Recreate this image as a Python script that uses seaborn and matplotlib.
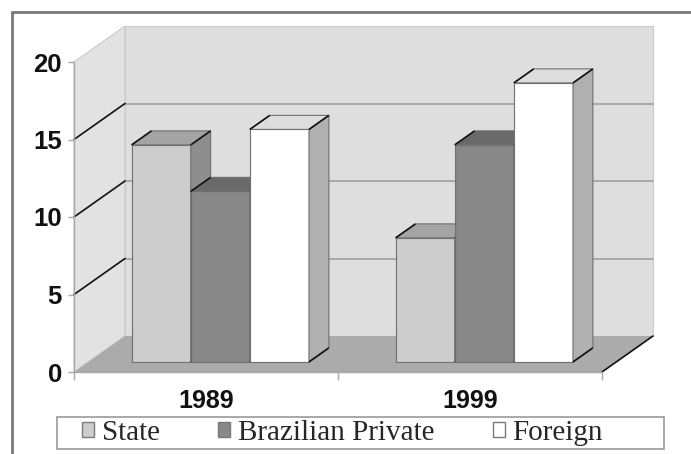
import numpy as np
import pandas as pd
import matplotlib
matplotlib.use("Agg")
import matplotlib.pyplot as plt
from matplotlib.patches import Polygon, Rectangle, Patch
from matplotlib.lines import Line2D
import seaborn as sns

# ---- data -------------------------------------------------------------
years = ["1989", "1999"]
sectors = ["State", "Brazilian Private", "Foreign"]
state = [14, 8]
brazilian_private = [11, 14]
foreign = [15, 18]
y_ticks = [0, 5, 10, 15, 20]

df = pd.DataFrame({
    "year": years * len(sectors),
    "sector": np.repeat(sectors, len(years)),
    "value": state + brazilian_private + foreign,
})

# ---- styling ----------------------------------------------------------
face_front = ["#cdcdcd", "#888888", "#ffffff"]
face_top = ["#a4a4a4", "#6a6a6a", "#dddddd"]
face_side = ["#8e8e8e", "#5e5e5e", "#b0b0b0"]
EDGE = "#707070"

sns.set_theme(style="white")
plt.rcParams["font.family"] = ["Liberation Sans", "DejaVu Sans"]

W, H, DPI = 691, 454, 100
fig = plt.figure(figsize=(W / DPI, H / DPI), dpi=DPI)
fig.patch.set_facecolor("white")

# box geometry in pixels: front floor edge, front axis heights, depth vector
FL, FR = 74, 602
F0, F20 = 372, 62
VMAX = 20
DEPTH = (51, -36)
T0, T1 = 0.28, 0.67          # bar front / back depth fraction
ncat = len(years)
px_cat = (FR - FL) / ncat
px_val = (F0 - F20) / VMAX
ddx = DEPTH[0] / px_cat
ddv = -DEPTH[1] / px_val


def fx(px):
    return px / W


def fy(py):
    return 1 - py / H


def P(x, v, t):
    """Point at category x, value v, depth t (0 front .. 1 back wall)."""
    return (x + (t - T0) * ddx, v + (t - T0) * ddv)


# main axes: data coordinates live in the bars' front plane
ax = fig.add_axes([0, 0, 1, 1])
sns.barplot(data=df, x="year", y="value", hue="sector", palette=face_front,
            width=0.672, saturation=1, edgecolor=EDGE, linewidth=0.8,
            legend=False, ax=ax)

x_left_px = FL + T0 * DEPTH[0]
y0_px = F0 + T0 * DEPTH[1]
ax.set_xlim(-0.5 - x_left_px / px_cat, -0.5 + (W - x_left_px) / px_cat)
ax.set_ylim((y0_px - H) / px_val, y0_px / px_val)
ax.set_axis_off()

xa, xb = -0.5, ncat - 0.5

# walls and floor
back = Polygon([P(xa, 0, 1), P(xb, 0, 1), P(xb, VMAX, 1), P(xa, VMAX, 1)],
               fc="#dedede", ec="#cacaca", lw=0.8, zorder=1)
left = Polygon([P(xa, 0, 0), P(xa, 0, 1), P(xa, VMAX, 1), P(xa, VMAX, 0)],
               fc="#e2e2e2", ec="#cacaca", lw=0.8, zorder=1)
floor = Polygon([P(xa, 0, 0), P(xb, 0, 0), P(xb, 0, 1), P(xa, 0, 1)],
                fc="#ababab", ec="none", zorder=2)
for p in (back, left, floor):
    ax.add_patch(p)

for v in y_ticks[1:-1]:
    (x1, y1), (x2, y2) = P(xa, v, 1), P(xb, v, 1)
    ax.plot([x1, x2], [y1, y2], color="#9a9a9a", lw=1.1, zorder=3)
    (x1, y1), (x2, y2) = P(xa, v, 0), P(xa, v, 1)
    ax.plot([x1, x2], [y1, y2], color="#111111", lw=1.2, zorder=3)
(x1, y1), (x2, y2) = P(xb, 0, 0), P(xb, 0, 1)
ax.plot([x1, x2], [y1, y2], color="#111111", lw=1.2, zorder=3)

# extrude every bar: front face from seaborn, then top and right side
bars = []
for hi, cont in enumerate(ax.containers):
    for rect in cont:
        bars.append((rect.get_x(), hi, rect))
bars.sort(key=lambda b: b[0])

for k, (xl, hi, rect) in enumerate(bars):
    z = 10 + 3 * k
    rect.set_zorder(z)
    xr = xl + rect.get_width()
    h = rect.get_height()
    top = Polygon([P(xl, h, T0), P(xr, h, T0), P(xr, h, T1), P(xl, h, T1)],
                  fc=face_top[hi], ec=EDGE, lw=0.8, zorder=z + 1)
    side = Polygon([P(xr, 0, T0), P(xr, h, T0), P(xr, h, T1), P(xr, 0, T1)],
                   fc=face_side[hi], ec=EDGE, lw=0.8, zorder=z + 1)
    ax.add_patch(side)
    ax.add_patch(top)
    for (xx, vv) in ((xl, h), (xr, h), (xr, 0)):
        (x1, y1), (x2, y2) = P(xx, vv, T0), P(xx, vv, T1)
        ax.plot([x1, x2], [y1, y2], color="#111111", lw=1.2, zorder=z + 2,
                solid_capstyle="butt")

# front-plane axes carrying the value and category scales
ax2 = fig.add_axes([fx(FL), fy(F0), (FR - FL) / W, (F0 - F20) / H])
ax2.patch.set_alpha(0)
ax2.set_xlim(xa, xb)
ax2.set_ylim(0, VMAX)
ax2.set_yticks(y_ticks)
ax2.set_xticks(range(ncat), years)
ax2.set_xticks(np.arange(ncat + 1) - 0.5, minor=True)
for s in ("top", "right"):
    ax2.spines[s].set_visible(False)
for s in ("left", "bottom"):
    ax2.spines[s].set_color("#a8a8a8")
    ax2.spines[s].set_linewidth(1.0)
ax2.tick_params(axis="y", which="major", direction="out", length=4.3,
                width=1, color="#a8a8a8", pad=4.3, labelsize=18.5, left=True)
ax2.tick_params(axis="x", which="major", length=0, pad=12.5, labelsize=18)
ax2.tick_params(axis="x", which="minor", direction="out", length=5.8,
                width=1, color="#a8a8a8", bottom=True)
for lab in ax2.get_xticklabels() + ax2.get_yticklabels():
    lab.set_fontweight("bold")
    lab.set_color("#111111")

# legend
handles = [Patch(fc=c, ec="#7a7a7a", lw=1.0) for c in face_front]
fig.legend(handles, sectors, ncol=3, mode="expand", loc="center",
           bbox_to_anchor=(fx(82), fy(449), (603 - 82) / W, 32 / H),
           frameon=False, borderpad=0, borderaxespad=0,
           handlelength=0.42, handleheight=0.42, handletextpad=0.25,
           prop={"family": "Liberation Serif", "size": 21})
fig.add_artist(Rectangle((fx(57), fy(449)), (664 - 57) / W, 32 / H,
                         transform=fig.transFigure, fill=False,
                         ec="#9a9a9a", lw=1.2))

# outer chart frame
fig.add_artist(Line2D([fx(12), fx(12)], [fy(12), 0], transform=fig.transFigure,
                      color="#7a7a7a", lw=2.0))
fig.add_artist(Line2D([fx(12), 1], [fy(12), fy(12)], transform=fig.transFigure,
                      color="#7a7a7a", lw=2.0))

fig.savefig("out.png", dpi=DPI)
